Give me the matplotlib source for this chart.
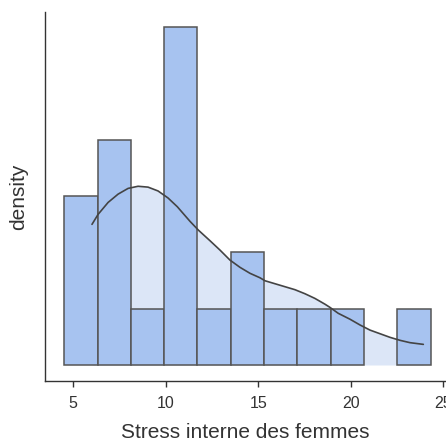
import numpy as np
import matplotlib
matplotlib.use("Agg")
import matplotlib.pyplot as plt

plt.rcParams["font.family"] = ["Liberation Sans", "DejaVu Sans"]

# Histogram: bin layout and counts per bin
bin_start = 4.51
bin_width = 1.8
bin_counts = [3, 4, 1, 6, 1, 2, 1, 1, 1, 0, 1]

# Density curve (x, density)
curve_x = [6.01, 6.34, 6.88, 7.42, 7.96, 8.50, 9.04, 9.58, 10.12, 10.62,
           11.31, 11.76, 12.39, 12.93, 13.47, 14.01, 14.55, 15.09,
           15.36, 15.90, 16.44, 16.98, 17.52, 18.06, 18.60, 18.87, 19.32,
           19.96, 20.50, 21.04, 21.58, 22.12, 22.66, 23.20, 23.92]
curve_y = [0.0661, 0.0708, 0.0764, 0.0803, 0.0830, 0.0840, 0.0836, 0.0818,
           0.0785, 0.0744, 0.0675, 0.0634, 0.0584, 0.0540, 0.0493,
           0.0459, 0.0431, 0.0410, 0.0396, 0.0382, 0.0368, 0.0354, 0.0335,
           0.0313, 0.0286, 0.0271, 0.0243, 0.0215, 0.0188, 0.0164, 0.0147,
           0.0130, 0.0116, 0.0105, 0.0097]

xticks = [5, 10, 15, 20, 25]

bar_color = "#a7c3f0"
fill_color = "#dce6f7"
edge_color = "#555555"
line_color = "#444444"
axis_color = "#333333"

counts = np.asarray(bin_counts, dtype=float)
n_total = counts.sum()
left_edges = bin_start + bin_width * np.arange(len(counts))
heights = counts / (n_total * bin_width)
shown = counts > 0

fig = plt.figure(figsize=(4.46, 4.43), dpi=100)
ax = fig.add_axes([0.1009, 0.1406, 0.9, 0.8323])

ax.fill_between(curve_x, 0, curve_y, color=fill_color, lw=0, zorder=1)
ax.bar(left_edges[shown], heights[shown], width=bin_width, align="edge",
       color=bar_color, edgecolor=edge_color, linewidth=1.1, zorder=2)
ax.plot(curve_x, curve_y, color=line_color, lw=1.2, zorder=3,
        solid_capstyle="round", solid_joinstyle="round")

ax.set_xlim(3.47, 3.47 + 0.9 * 446 / 18.5)
ax.set_ylim(-0.00738, 0.1659)
ax.set_xticks(xticks)
ax.set_yticks([])
ax.tick_params(axis="x", length=4, width=1, color=axis_color,
               labelsize=11.5, labelcolor=axis_color, pad=7)
for side in ("top", "right"):
    ax.spines[side].set_visible(False)
for side in ("left", "bottom"):
    ax.spines[side].set_color(axis_color)
    ax.spines[side].set_linewidth(1)

ax.set_xlabel("Stress interne des femmes", fontsize=15, color=axis_color, labelpad=9)
ax.set_ylabel("density", fontsize=15, color=axis_color, labelpad=12)

fig.savefig("out.png", dpi=100)
